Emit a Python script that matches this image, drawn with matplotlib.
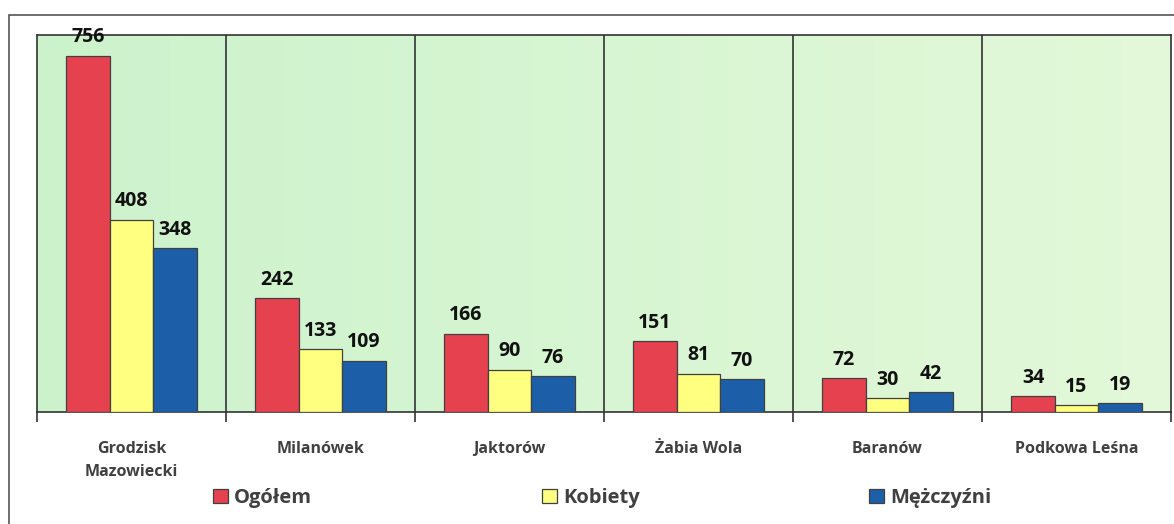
import numpy as np
import matplotlib.pyplot as plt
from matplotlib.patches import Rectangle

# data
gminy = ['Grodzisk\nMazowiecki', 'Milanówek', 'Jaktorów', 'Żabia Wola', 'Baranów', 'Podkowa Leśna']
ogolem = [756, 242, 166, 151, 72, 34]
kobiety = [408, 133, 90, 81, 30, 15]
mezczyzni = [348, 109, 76, 70, 42, 19]
serie = ['Ogółem', 'Kobiety', 'Mężczyźni']

plt.rcParams['font.family'] = ['Open Sans', 'DejaVu Sans']

fig = plt.figure(figsize=(11.74, 5.24), dpi=100)
ax = fig.add_axes([37 / 1174, 112 / 524, 1134 / 1174, 377 / 524])

# outer frame
fig.patches.append(Rectangle((9 / 1174, -0.1), 1.2, (524 - 15) / 524 + 0.1,
                             transform=fig.transFigure, fill=False,
                             edgecolor='#555555', linewidth=1.2))

# green gradient background
grad = np.linspace(0, 1, 256).reshape(1, -1)
c0 = np.array([0.80, 0.95, 0.80])
c1 = np.array([0.89, 0.975, 0.85])
img = c0[None, None, :] * (1 - grad[..., None]) + c1[None, None, :] * grad[..., None]
ax.imshow(img, extent=[-0.5, 5.5, 0, 800], aspect='auto', zorder=0)

x = np.arange(len(gminy))
w = 0.23
kolory = ['#e6414f', '#ffff80', '#1c5fa8']
for i, (vals, kol, lab) in enumerate(zip([ogolem, kobiety, mezczyzni], kolory, serie)):
    bars = ax.bar(x + (i - 1) * w, vals, w, color=kol, edgecolor='#404040',
                  linewidth=0.9, label=lab, zorder=3)
    for b, v in zip(bars, vals):
        ax.annotate(str(v), (b.get_x() + b.get_width() / 2, v), xytext=(0, 6),
                    textcoords='offset points', ha='center', va='bottom',
                    fontsize=14, fontweight='bold', color='#111111', zorder=4)

# dividers between categories
for xb in np.arange(0.5, 5.5, 1):
    ax.axvline(xb, color='#333333', linewidth=1.2, zorder=2)

ax.set_xlim(-0.5, 5.5)
ax.set_ylim(0, 800)
ax.set_yticks([])
ax.set_xticks(x)
ax.set_xticklabels(gminy, fontsize=11.5, fontweight='bold', color='#404040',
                   linespacing=1.55)
ax.tick_params(axis='x', which='major', length=0, pad=21)
ax.set_xticks(np.arange(-0.5, 6.0, 1), minor=True)
ax.tick_params(axis='x', which='minor', length=7, width=1.2, color='#333333')
for s in ax.spines.values():
    s.set_color('#333333')
    s.set_linewidth(1.2)

fig.legend(loc='center', bbox_to_anchor=(0.513, 26 / 524), ncol=3, frameon=False,
           prop={'size': 14.5, 'weight': 'bold'}, labelcolor='#404040',
           handlelength=0.75, handleheight=0.75, handletextpad=0.3,
           columnspacing=11.4)

fig.savefig('out.png', dpi=100)
